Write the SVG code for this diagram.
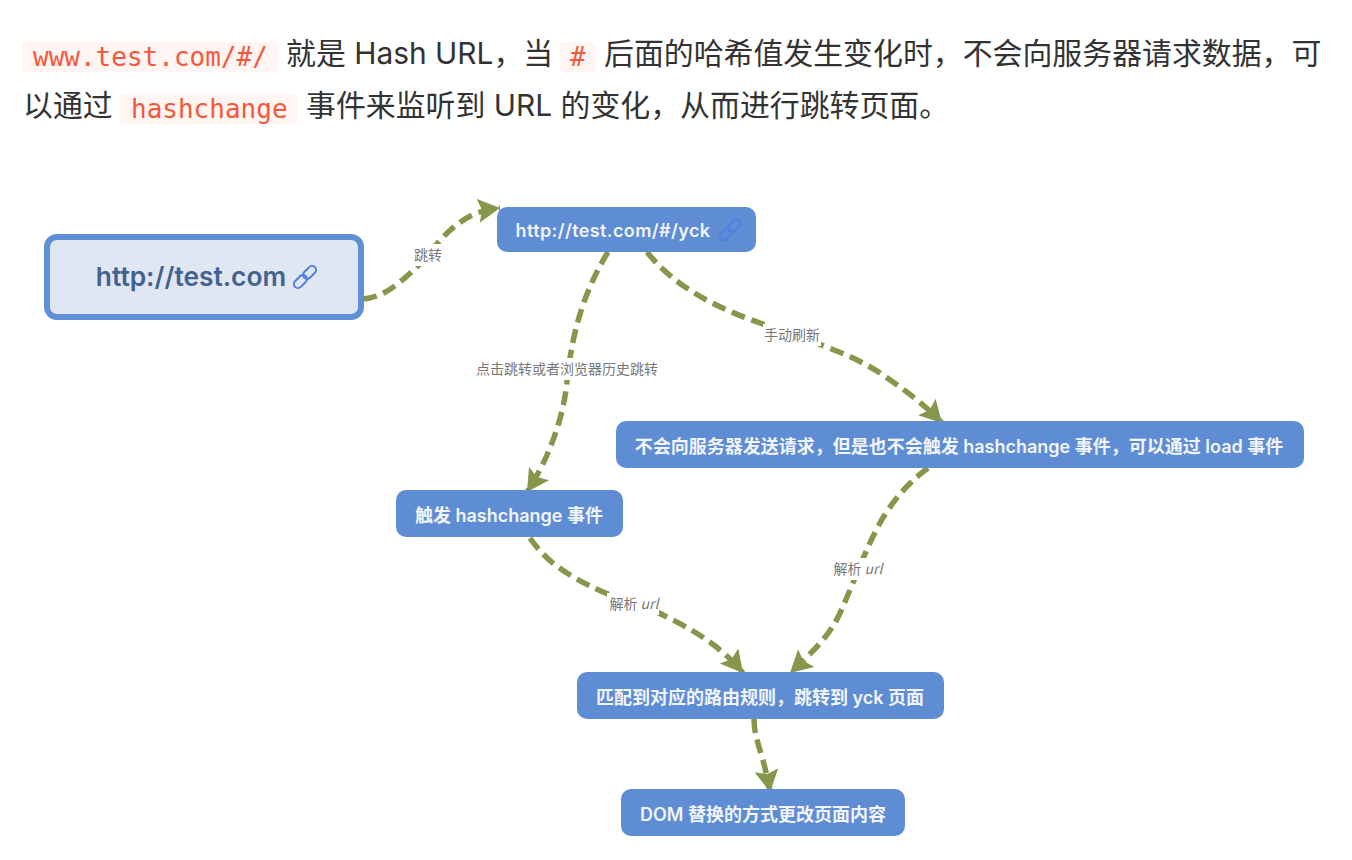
<svg xmlns="http://www.w3.org/2000/svg" width="1352" height="860" viewBox="0 0 1352 860">
<style>
.t{font-family:"Inter","Noto Sans CJK SC",sans-serif;font-size:29.9px;fill:#333}
.c{font-family:"DejaVu Sans Mono",monospace;font-size:26px;fill:#f4583a}
.cb{fill:#fff5f2}
.n{fill:#5f8dd3}
.nt{font-family:"Inter","Noto Sans CJK SC",sans-serif;font-size:18px;font-weight:600;fill:#f1f5fb;text-anchor:middle}
.l{font-family:"Noto Sans CJK SC",sans-serif;font-size:14px;fill:#777;text-anchor:middle}
.e{fill:none;stroke:#84974b;stroke-width:5.5;stroke-dasharray:14 7}
.lk{fill:none;stroke:#4f7fe0;stroke-width:2}
</style>
<defs><marker id="a" markerUnits="userSpaceOnUse" markerWidth="28" markerHeight="28" refX="22" refY="12" orient="auto"><path d="M0 0L22 12L0 24L4 12Z" fill="#84974b"/></marker></defs>
<rect class="cb" x="22" y="42" width="256" height="30" rx="5"/>
<text class="c" x="33" y="66">www.test.com/#/</text>
<text class="t" x="286" y="64">就是 Hash URL，当</text>
<rect class="cb" x="560" y="42" width="36" height="30" rx="5"/>
<text class="c" x="570" y="66">#</text>
<text class="t" x="604" y="64">后面的哈希值发生变化时，不会向服务器请求数据，可</text>
<text class="t" x="23" y="116">以通过</text>
<rect class="cb" x="120" y="94" width="178" height="30" rx="5"/>
<text class="c" x="131" y="118">hashchange</text>
<text class="t" x="306" y="116">事件来监听到 URL 的变化，从而进行跳转页面。</text>
<g id="edges">
<path class="e" marker-end="url(#a)" d="M363 299C388 297 405 277 418 266C436 246 450 224 477 213C485 210 492 209 500 208"/>
<path class="e" marker-end="url(#a)" d="M608 252C585 290 572 330 567 382C563 420 548 460 527 492"/>
<path class="e" marker-end="url(#a)" d="M647 252C675 288 720 309 760 323C800 338 850 352 883 375C905 390 925 405 942 423"/>
<path class="e" marker-end="url(#a)" d="M928 468C905 485 890 505 880 523C865 550 855 580 840 613C830 635 815 650 790 673"/>
<path class="e" marker-end="url(#a)" d="M530 538C545 560 565 575 603 592C630 603 650 608 663 615C690 628 720 645 743 673"/>
<path class="e" marker-end="url(#a)" d="M754 719C754 740 764 755 770 792"/>
</g>
<g id="edge-labels">
<rect x="412" y="244" width="32" height="22" fill="#fff"/><text class="l" x="428" y="260">跳转</text>
<rect x="476" y="358" width="182" height="22" fill="#fff"/><text class="l" x="567" y="374">点击跳转或者浏览器历史跳转</text>
<rect x="763" y="324" width="58" height="22" fill="#fff"/><text class="l" x="792" y="340">手动刷新</text>
<rect x="832" y="558" width="52" height="22" fill="#fff"/><text class="l" x="858" y="574">解析 <tspan font-style="italic">url</tspan></text>
<rect x="607" y="593" width="52" height="22" fill="#fff"/><text class="l" x="634" y="609">解析 <tspan font-style="italic">url</tspan></text>
</g>
<g id="n1"><rect x="47" y="237" width="314" height="80" rx="10" fill="#e0e7f3" stroke="#5f8fd6" stroke-width="6"/>
<text x="191" y="286" font-family="Inter,sans-serif" font-size="26.3" font-weight="600" fill="#44628f" text-anchor="middle">http://test.com</text>
<g class="lk" transform="translate(305 277) rotate(-45)"><rect x="-14" y="-4" width="15" height="8" rx="4"/><rect x="-1" y="-4" width="15" height="8" rx="4"/></g></g>
<g id="n2"><rect class="n" x="497" y="207" width="259" height="45" rx="10"/><text class="nt" x="613" y="237" letter-spacing="0.4">http://test.com/#/yck</text>
<g class="lk" transform="translate(730 230) rotate(-45)"><rect x="-13" y="-4" width="14" height="8" rx="4"/><rect x="-1" y="-4" width="14" height="8" rx="4"/></g></g>
<g id="n3"><rect class="n" x="616" y="421" width="688" height="47" rx="10"/><text class="nt" x="959" y="453">不会向服务器发送请求，但是也不会触发 hashchange 事件，可以通过 load 事件</text></g>
<g id="n4"><rect class="n" x="396" y="490" width="227" height="47" rx="10"/><text class="nt" x="509" y="522">触发 hashchange 事件</text></g>
<g id="n5"><rect class="n" x="577" y="672" width="367" height="47" rx="10"/><text class="nt" x="760" y="704">匹配到对应的路由规则，跳转到 yck 页面</text></g>
<g id="n6"><rect class="n" x="621" y="789" width="284" height="47" rx="10"/><text class="nt" x="763" y="821">DOM 替换的方式更改页面内容</text></g>
</svg>
